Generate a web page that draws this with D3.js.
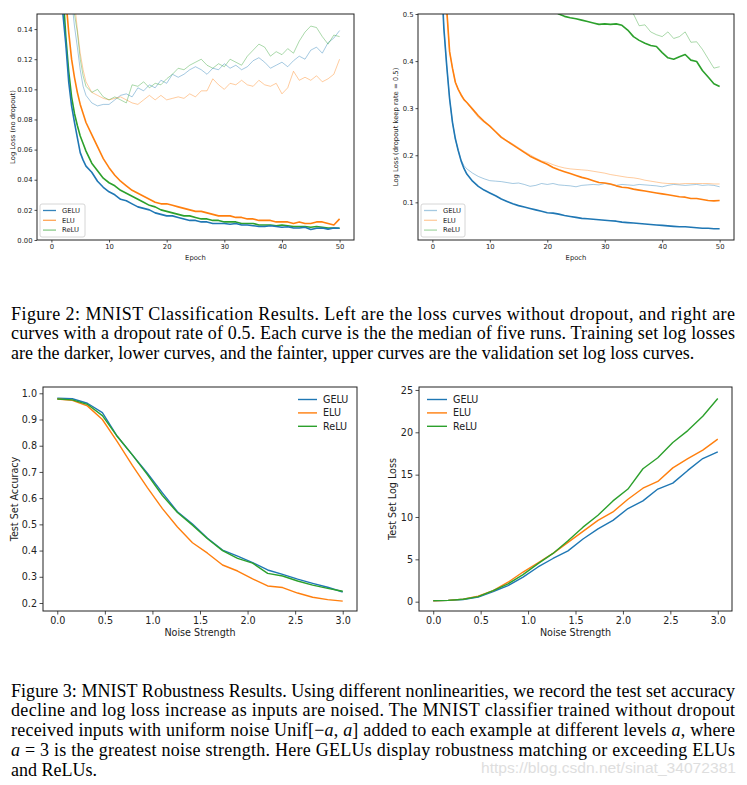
<!DOCTYPE html>
<html><head><meta charset="utf-8">
<script src="https://cdn.jsdelivr.net/npm/d3@7"></script>
<style>body{margin:0;background:#fff}svg{display:block}
.cap{font-family:"Liberation Serif","Times New Roman",Times,serif}
</style>
</head><body>
<script>
// ---------------- DATA ----------------
const epochs = [1,1.5,2,2.5,3,3.5,4,4.5,5,5.5,6,7,8,9,10,11,12,13,14,15,16,17,18,19,20,21,22,23,24,25,26,27,28,29,30,31,32,33,34,35,36,37,38,39,40,41,42,43,44,45,46,47,48,49,50];
const epochTicks = [0,10,20,30,40,50];
const seriesNames = ["GELU","ELU","ReLU"];

// Left: no dropout
const ndGeluTrain = [0.30,0.20,0.15,0.13,0.105,0.089,0.078,0.068,0.058,0.053,0.049,0.045,0.039,0.035,0.032,0.030,0.027,0.026,0.024,0.022,0.021,0.020,0.018,0.017,0.016,0.016,0.015,0.014,0.013,0.013,0.012,0.012,0.011,0.011,0.011,0.0105,0.011,0.010,0.010,0.0095,0.009,0.009,0.0095,0.009,0.0085,0.0088,0.008,0.008,0.0085,0.007,0.0078,0.008,0.0072,0.008,0.0078];
const ndEluTrain = [0.35,0.28,0.22,0.16,0.138,0.120,0.108,0.098,0.090,0.084,0.078,0.070,0.062,0.054,0.048,0.043,0.039,0.036,0.033,0.031,0.029,0.027,0.025,0.024,0.024,0.023,0.022,0.021,0.020,0.019,0.019,0.018,0.017,0.016,0.016,0.016,0.015,0.015,0.014,0.014,0.013,0.013,0.013,0.012,0.012,0.012,0.011,0.012,0.011,0.011,0.012,0.012,0.011,0.010,0.014];
const ndReluTrain = [0.30,0.22,0.165,0.135,0.112,0.095,0.084,0.076,0.069,0.064,0.059,0.051,0.046,0.041,0.038,0.036,0.033,0.031,0.029,0.027,0.025,0.023,0.022,0.020,0.019,0.018,0.017,0.016,0.016,0.015,0.014,0.014,0.013,0.013,0.012,0.012,0.012,0.011,0.011,0.011,0.010,0.010,0.010,0.0095,0.010,0.0095,0.009,0.009,0.009,0.0085,0.009,0.0085,0.008,0.008,0.0078];
const ndGeluVal = [0.40,0.32,0.25,0.20,0.17,0.16,0.142,0.128,0.113,0.102,0.096,0.091,0.089,0.090,0.090,0.093,0.096,0.097,0.095,0.101,0.099,0.103,0.101,0.106,0.104,0.110,0.108,0.110,0.113,0.115,0.113,0.110,0.114,0.113,0.117,0.114,0.116,0.113,0.115,0.119,0.121,0.118,0.114,0.116,0.118,0.115,0.119,0.122,0.120,0.126,0.128,0.124,0.131,0.134,0.139];
const ndEluVal = [0.45,0.38,0.31,0.25,0.21,0.18,0.158,0.140,0.124,0.113,0.105,0.098,0.096,0.094,0.093,0.094,0.095,0.093,0.091,0.090,0.093,0.096,0.093,0.096,0.093,0.094,0.095,0.094,0.097,0.095,0.099,0.099,0.107,0.103,0.100,0.104,0.103,0.106,0.103,0.102,0.106,0.103,0.102,0.104,0.097,0.101,0.112,0.106,0.108,0.106,0.109,0.105,0.107,0.110,0.120];
const ndReluVal = [0.42,0.34,0.27,0.22,0.185,0.165,0.150,0.138,0.120,0.109,0.102,0.098,0.100,0.095,0.093,0.095,0.093,0.091,0.103,0.102,0.105,0.101,0.104,0.103,0.107,0.110,0.114,0.113,0.116,0.118,0.120,0.116,0.114,0.117,0.115,0.120,0.118,0.116,0.122,0.126,0.130,0.128,0.122,0.125,0.123,0.127,0.124,0.132,0.138,0.142,0.141,0.135,0.130,0.136,0.135];
const ndYTicks = [0.00,0.02,0.04,0.06,0.08,0.10,0.12,0.14];

// Right: dropout keep rate 0.5
const doGeluTrain = [0.90,0.60,0.47,0.39,0.32,0.27,0.235,0.21,0.188,0.172,0.160,0.145,0.134,0.126,0.120,0.114,0.107,0.102,0.097,0.093,0.090,0.087,0.084,0.081,0.078,0.077,0.075,0.072,0.070,0.068,0.066,0.065,0.064,0.063,0.062,0.061,0.060,0.058,0.057,0.056,0.055,0.054,0.053,0.052,0.051,0.050,0.049,0.048,0.048,0.047,0.046,0.045,0.045,0.044,0.044];
const doGeluVal = [0.90,0.60,0.47,0.39,0.32,0.27,0.235,0.21,0.190,0.178,0.171,0.162,0.155,0.150,0.146,0.145,0.144,0.142,0.140,0.141,0.138,0.134,0.136,0.140,0.138,0.140,0.137,0.136,0.135,0.133,0.136,0.137,0.138,0.137,0.140,0.138,0.136,0.138,0.137,0.136,0.138,0.137,0.136,0.135,0.133,0.136,0.138,0.137,0.136,0.137,0.138,0.136,0.137,0.136,0.133];
const doEluTrain = [0.90,0.75,0.62,0.51,0.42,0.385,0.355,0.34,0.328,0.318,0.312,0.298,0.284,0.272,0.262,0.250,0.238,0.230,0.222,0.214,0.206,0.198,0.192,0.186,0.181,0.174,0.169,0.165,0.161,0.157,0.153,0.150,0.146,0.142,0.141,0.139,0.135,0.132,0.131,0.128,0.126,0.124,0.122,0.120,0.118,0.116,0.114,0.112,0.111,0.108,0.108,0.106,0.104,0.103,0.104];
const doEluVal = [0.90,0.75,0.62,0.51,0.42,0.385,0.355,0.34,0.330,0.320,0.312,0.296,0.280,0.270,0.262,0.251,0.240,0.231,0.224,0.216,0.208,0.201,0.194,0.188,0.185,0.180,0.176,0.173,0.171,0.170,0.169,0.168,0.166,0.164,0.162,0.159,0.157,0.155,0.153,0.152,0.150,0.147,0.145,0.143,0.141,0.140,0.140,0.139,0.140,0.140,0.140,0.140,0.140,0.139,0.139];
const doReluTrain = [1.2,1.1,1.0,0.95,0.9,0.87,0.84,0.81,0.78,0.76,0.74,0.70,0.67,0.65,0.63,0.61,0.59,0.58,0.57,0.56,0.55,0.54,0.53,0.52,0.515,0.508,0.500,0.495,0.492,0.490,0.487,0.484,0.481,0.478,0.479,0.478,0.479,0.476,0.466,0.452,0.444,0.438,0.433,0.431,0.418,0.407,0.404,0.409,0.414,0.402,0.399,0.380,0.366,0.352,0.346];
const doReluVal = [1.3,1.2,1.1,1.0,0.95,0.92,0.89,0.86,0.83,0.81,0.79,0.76,0.74,0.72,0.70,0.68,0.67,0.66,0.65,0.64,0.63,0.62,0.61,0.60,0.595,0.59,0.58,0.575,0.57,0.565,0.56,0.555,0.55,0.545,0.54,0.535,0.53,0.52,0.51,0.500,0.475,0.477,0.462,0.456,0.452,0.462,0.448,0.452,0.462,0.440,0.441,0.425,0.405,0.385,0.388];
const doYTicks = [0.1,0.2,0.3,0.4,0.5];

// Robustness
const noise = [0.0,0.158,0.316,0.474,0.632,0.789,0.947,1.105,1.263,1.421,1.579,1.737,1.895,2.053,2.211,2.368,2.526,2.684,2.842,3.0];
const noiseTicks = [0.0,0.5,1.0,1.5,2.0,2.5,3.0];
const accGelu = [0.981,0.979,0.962,0.926,0.835,0.765,0.695,0.620,0.548,0.501,0.447,0.402,0.379,0.354,0.326,0.309,0.291,0.275,0.260,0.242];
const accElu  = [0.978,0.973,0.952,0.900,0.815,0.725,0.640,0.560,0.490,0.430,0.390,0.345,0.322,0.292,0.265,0.259,0.238,0.222,0.213,0.207];
const accRelu = [0.978,0.975,0.958,0.915,0.835,0.765,0.690,0.610,0.545,0.497,0.445,0.400,0.370,0.352,0.313,0.303,0.284,0.268,0.256,0.245];
const accTicks = [0.2,0.3,0.4,0.5,0.6,0.7,0.8,0.9,1.0];
const lossGelu = [0.10,0.15,0.25,0.55,1.20,1.90,2.90,4.10,5.10,6.00,7.40,8.60,9.60,11.00,11.90,13.30,14.00,15.50,16.90,17.70];
const lossElu  = [0.10,0.15,0.30,0.65,1.30,2.30,3.50,4.60,5.70,7.00,8.30,9.60,10.60,12.10,13.40,14.20,15.80,16.90,17.90,19.20];
const lossRelu = [0.12,0.15,0.28,0.60,1.30,2.10,3.20,4.50,5.70,7.20,8.80,10.20,11.90,13.30,15.70,17.00,18.80,20.20,21.90,24.00];
const lossTicks = [0,5,10,15,20,25];

// Captions
const caption2 = [
  [{t:"Figure 2:  MNIST Classification Results.  Left are the loss curves without dropout, and right are"}],
  [{t:"curves with a dropout rate of 0.5. Each curve is the the median of five runs. Training set log losses"}],
  [{t:"are the darker, lower curves, and the fainter, upper curves are the validation set log loss curves."}]
];
const caption3 = [
  [{t:"Figure 3: MNIST Robustness Results. Using different nonlinearities, we record the test set accuracy"}],
  [{t:"decline and log loss increase as inputs are noised.  The MNIST classifier trained without dropout"}],
  [{t:"received inputs with uniform noise Unif[\u2212"},{t:"a",i:1},{t:", "},{t:"a",i:1},{t:"] added to each example at different levels "},{t:"a",i:1},{t:", where"}],
  [{t:"a",i:1},{t:" = 3 is the greatest noise strength. Here GELUs display robustness matching or exceeding ELUs"}],
  [{t:"and ReLUs."}]
];
const watermark = "https://blog.csdn.net/sinat_34072381";

// ---------------- DRAW ----------------
const C = {blue:"#1f77b4", orange:"#ff7f0e", green:"#2ca02c"};
const svg = d3.select("body").append("svg").attr("width",747).attr("height",785);
svg.append("rect").attr("width",747).attr("height",785).attr("fill","#fff");
const defs = svg.append("defs");
let clipN = 0;

function panel(cfg){
  const x = d3.scaleLinear().domain(cfg.xd).range([cfg.x0,cfg.x1]);
  const y = d3.scaleLinear().domain(cfg.yd).range([cfg.y1,cfg.y0]);
  const id = "clip"+(clipN++);
  defs.append("clipPath").attr("id",id).append("rect")
    .attr("x",cfg.x0).attr("y",cfg.y0).attr("width",cfg.x1-cfg.x0).attr("height",cfg.y1-cfg.y0);
  const g = svg.append("g");
  const line = d3.line().x(d=>x(d[0])).y(d=>y(d[1]));
  const lg = g.append("g").attr("clip-path","url(#"+id+")");
  cfg.series.forEach(s=>{
    lg.append("path").datum(d3.zip(s.xs,s.ys)).attr("d",line)
      .attr("fill","none").attr("stroke",s.color).attr("stroke-width",s.w)
      .attr("stroke-opacity",s.op).attr("stroke-linejoin","round");
  });
  const fs = cfg.fs;
  const ax = g.append("g").attr("transform","translate(0,"+cfg.y1+")")
    .call(d3.axisBottom(x).tickValues(cfg.xt).tickFormat(cfg.xf).tickSize(cfg.tk).tickPadding(cfg.tp));
  const ay = g.append("g").attr("transform","translate("+cfg.x0+",0)")
    .call(d3.axisLeft(y).tickValues(cfg.yt).tickFormat(cfg.yf).tickSize(cfg.tk).tickPadding(cfg.tp));
  [ax,ay].forEach(a=>{
    a.select(".domain").remove();
    a.attr("font-family","DejaVu Sans").attr("font-size",fs);
    a.selectAll("line").attr("stroke","#222").attr("stroke-width",0.8);
    a.selectAll("text").attr("fill","#222");
  });
  g.append("rect").attr("x",cfg.x0).attr("y",cfg.y0).attr("width",cfg.x1-cfg.x0).attr("height",cfg.y1-cfg.y0)
    .attr("fill","none").attr("stroke","#222").attr("stroke-width",cfg.frame);
  g.append("text").attr("x",(cfg.x0+cfg.x1)/2).attr("y",cfg.y1+cfg.xlOff)
    .attr("text-anchor","middle").attr("font-family","DejaVu Sans").attr("font-size",cfg.lfs)
    .attr("fill","#222").text(cfg.xl);
  g.append("text").attr("transform","translate("+(cfg.x0-cfg.ylOff)+","+((cfg.y0+cfg.y1)/2)+") rotate(-90)")
    .attr("text-anchor","middle").attr("font-family","DejaVu Sans").attr("font-size",cfg.lfs)
    .attr("fill","#222").text(cfg.yl);
  const L = cfg.legend;
  if(L.box){
    g.append("rect").attr("x",L.bx).attr("y",L.by).attr("width",L.bw).attr("height",L.bh)
      .attr("rx",2).attr("fill","#fff").attr("fill-opacity",0.8).attr("stroke","#ccc").attr("stroke-width",0.8);
  }
  L.items.forEach((it,i)=>{
    const yy = L.y + i*L.dy;
    g.append("line").attr("x1",L.lx1).attr("x2",L.lx2).attr("y1",yy).attr("y2",yy)
      .attr("stroke",it.color).attr("stroke-width",L.lw).attr("stroke-opacity",it.op);
    g.append("text").attr("x",L.tx).attr("y",yy).attr("dy","0.35em")
      .attr("font-family","DejaVu Sans").attr("font-size",L.fs).attr("fill","#222").text(it.name);
  });
}

const fmt2 = d3.format(".2f"), fmt1 = d3.format(".1f"), fmt0 = d3.format("d");

panel({x0:37,x1:354,y0:14,y1:240,xd:[-2.5,52.5],yd:[0,0.15],xt:epochTicks,yt:ndYTicks,xf:fmt0,yf:fmt2,
  tk:2.5,tp:2,fs:6.8,lfs:6.8,frame:1,xl:"Epoch",yl:"Log Loss (no dropout)",xlOff:20,ylOff:22,
  series:[
    {xs:epochs,ys:ndGeluVal,color:C.blue,w:1,op:0.4},
    {xs:epochs,ys:ndEluVal,color:C.orange,w:1,op:0.4},
    {xs:epochs,ys:ndReluVal,color:C.green,w:1,op:0.4},
    {xs:epochs,ys:ndEluTrain,color:C.orange,w:1.6,op:1},
    {xs:epochs,ys:ndReluTrain,color:C.green,w:1.6,op:1},
    {xs:epochs,ys:ndGeluTrain,color:C.blue,w:1.6,op:1}
  ],
  legend:{box:true,bx:40,by:204,bw:45,bh:33,lx1:43,lx2:56,tx:62,y:210.5,dy:9.8,lw:1.3,fs:6.8,
    items:[{name:seriesNames[0],color:C.blue,op:0.9},{name:seriesNames[1],color:C.orange,op:0.7},{name:seriesNames[2],color:C.green,op:0.55}]}
});

panel({x0:418,x1:734,y0:14,y1:240,xd:[-2.5,52.5],yd:[0.02,0.5],xt:epochTicks,yt:doYTicks,xf:fmt0,yf:fmt1,
  tk:2.5,tp:2,fs:6.8,lfs:6.8,frame:1,xl:"Epoch",yl:"Log Loss (dropout keep rate = 0.5)",xlOff:20,ylOff:20,
  series:[
    {xs:epochs,ys:doGeluVal,color:C.blue,w:1,op:0.4},
    {xs:epochs,ys:doEluVal,color:C.orange,w:1,op:0.4},
    {xs:epochs,ys:doReluVal,color:C.green,w:1,op:0.4},
    {xs:epochs,ys:doEluTrain,color:C.orange,w:1.6,op:1},
    {xs:epochs,ys:doReluTrain,color:C.green,w:1.6,op:1},
    {xs:epochs,ys:doGeluTrain,color:C.blue,w:1.6,op:1}
  ],
  legend:{box:true,bx:421,by:204,bw:44,bh:33,lx1:424,lx2:437,tx:443,y:210.5,dy:9.8,lw:1.3,fs:6.8,
    items:[{name:seriesNames[0],color:C.blue,op:0.4},{name:seriesNames[1],color:C.orange,op:0.4},{name:seriesNames[2],color:C.green,op:0.4}]}
});

panel({x0:43,x1:357,y0:387,y1:611,xd:[-0.15,3.15],yd:[0.1695,1.024],xt:noiseTicks,yt:accTicks,xf:fmt1,yf:fmt1,
  tk:3.5,tp:2.5,fs:9.6,lfs:9.6,frame:1,xl:"Noise Strength",yl:"Test Set Accuracy",xlOff:25,ylOff:25,
  series:[
    {xs:noise,ys:accGelu,color:C.blue,w:1.4,op:1},
    {xs:noise,ys:accElu,color:C.orange,w:1.4,op:1},
    {xs:noise,ys:accRelu,color:C.green,w:1.4,op:1}
  ],
  legend:{box:false,lx1:298,lx2:317,tx:323,y:399.5,dy:13.4,lw:1.4,fs:9.6,
    items:[{name:seriesNames[0],color:C.blue,op:1},{name:seriesNames[1],color:C.orange,op:1},{name:seriesNames[2],color:C.green,op:1}]}
});

panel({x0:419,x1:732,y0:387,y1:611,xd:[-0.15,3.15],yd:[-1.1,25.35],xt:noiseTicks,yt:lossTicks,xf:fmt1,yf:fmt0,
  tk:3.5,tp:2.5,fs:9.6,lfs:9.6,frame:1,xl:"Noise Strength",yl:"Test Set Log Loss",xlOff:25,ylOff:23,
  series:[
    {xs:noise,ys:lossGelu,color:C.blue,w:1.4,op:1},
    {xs:noise,ys:lossElu,color:C.orange,w:1.4,op:1},
    {xs:noise,ys:lossRelu,color:C.green,w:1.4,op:1}
  ],
  legend:{box:false,lx1:427,lx2:447,tx:453,y:399.5,dy:13.4,lw:1.4,fs:9.6,
    items:[{name:seriesNames[0],color:C.blue,op:1},{name:seriesNames[1],color:C.orange,op:1},{name:seriesNames[2],color:C.green,op:1}]}
});

// watermark (drawn under the caption text)
svg.append("text").attr("x",481).attr("y",773).attr("font-family","Liberation Sans")
  .attr("font-size",14).attr("fill","#dedede").attr("textLength",255).attr("lengthAdjust","spacingAndGlyphs")
  .text(watermark);

function caption(lines, y0, dy){
  lines.forEach((segs,i)=>{
    const t = svg.append("text").attr("class","cap").attr("x",11).attr("y",y0+i*dy)
      .attr("font-size",18).attr("fill","#000");
    if(i<lines.length-1){ t.attr("textLength",724).attr("lengthAdjust","spacing"); }
    segs.forEach(s=>{
      const ts = t.append("tspan").text(s.t);
      if(s.i) ts.attr("font-style","italic");
    });
  });
}
caption(caption2, 319.5, 19.6);
caption(caption3, 696.5, 19.8);
</script>
</body></html>
